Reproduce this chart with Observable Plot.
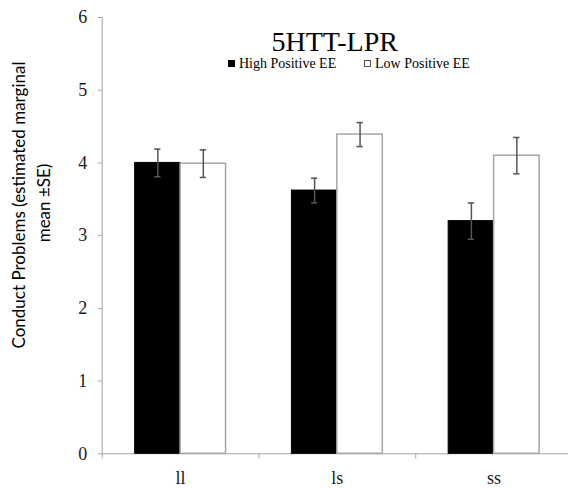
<!DOCTYPE html>
<html>
<head>
<meta charset="utf-8">
<script src="https://cdn.jsdelivr.net/npm/d3@7"></script>
<script src="https://cdn.jsdelivr.net/npm/@observablehq/plot@0.6"></script>
<style>
  html, body { margin: 0; padding: 0; background: #fff; overflow: hidden; }
  #wrap { position: relative; width: 568px; height: 488px; overflow: hidden; }
  #chart { position: absolute; left: 0; top: 0; }
  #title { position: absolute; left: 234.7px; width: 200px; top: 27.5px; text-align: center;
    font-family: "Liberation Serif", serif; font-size: 28px; color: #000; line-height: 28px; }
  #legend { position: absolute; left: 0; top: 57.3px; width: 568px; height: 14px; font-family: "Liberation Serif", serif;
    font-size: 14px; color: #000; white-space: nowrap; line-height: 14px; }
  #legend .item { position: absolute; top: 0; }
  #legend .sw { display: inline-block; width: 7px; height: 7px; margin-right: 4px; vertical-align: 1px; box-sizing: border-box; }
  .ylab { position: absolute; white-space: nowrap; font-family: Lato, sans-serif; font-size: 17px;
    line-height: 17px; color: #000; transform: translate(-50%, -50%) rotate(-90deg); transform-origin: 50% 50%; }
</style>
</head>
<body>
<div id="wrap">
  <div id="chart"></div>
  <div id="title"></div>
  <div id="legend"></div>
</div>
<script>
// ---- data ----
const genes = ["ll", "ls", "ss"];
const series = ["High Positive EE", "Low Positive EE"];
const highMeans = [4.00, 3.62, 3.20];
const lowMeans = [3.99, 4.39, 4.10];
const highSE = [0.19, 0.17, 0.25];
const lowSE = [0.19, 0.165, 0.25];
const yTicks = [0, 1, 2, 3, 4, 5, 6];
const titleText = "5HTT-LPR";
const yLabelLines = ["Conduct Problems (estimated marginal", "mean \u00B1SE)"];

// ---- layout constants ----
const groupStart = 0.21, barW = 0.29, capHalf = 0.02;
const barFill = ["#000000", "#ffffff"];
const barStroke = ["#000000", "#a6a6a6"];
const legendLeft = [228, 364];
const yLabelPos = [[17.5, 204.5], [42.5, 202.5]];

const rows = [];
genes.forEach((g, gi) => {
  [highMeans, lowMeans].forEach((arr, si) => {
    const se = (si === 0 ? highSE : lowSE)[gi];
    const x1 = gi + groupStart + si * barW;
    rows.push({gene: g, gi, series: series[si], si, mean: arr[gi], se,
      x1, x2: x1 + barW, xc: x1 + barW / 2});
  });
});

const chart = Plot.plot({
  width: 568,
  height: 488,
  marginTop: 17,
  marginBottom: 34.7,
  marginLeft: 101.7,
  marginRight: 0,
  style: {fontFamily: "Liberation Serif, serif", fontSize: "18px", color: "#1a1a1a", background: "#fff"},
  x: {type: "linear", domain: [0, genes.length], range: [101.7, 572]},
  y: {domain: [0, 6], range: [453.3, 17]},
  marks: [
    Plot.ruleY([0], {stroke: "#a6a6a6", x1: 0, x2: genes.length}),
    Plot.ruleX([0], {stroke: "#a6a6a6", y1: 0, y2: 6}),
    Plot.axisY({ticks: yTicks, tickSize: 4, tickPadding: 11, stroke: "#a6a6a6",
      tickFormat: d3.format("d"), label: null, fontSize: 18, fontFamily: "Liberation Serif"}),
    Plot.axisX({ticks: d3.range(genes.length + 1), tickSize: 5, stroke: "#a6a6a6",
      tickFormat: () => "", label: null}),
    Plot.axisX({ticks: genes.map((g, i) => i + 0.5), tickSize: 0, tickPadding: 17,
      tickFormat: d => genes[Math.floor(d)], label: null, fontSize: 18, fontFamily: "Liberation Serif"}),
    Plot.rectY(rows.filter(d => d.si === 0), {x1: "x1", x2: "x2", y1: 0, y2: "mean",
      fill: barFill[0], stroke: barStroke[0], strokeWidth: 1}),
    Plot.rectY(rows.filter(d => d.si === 1), {x1: "x1", x2: "x2", y1: 0, y2: "mean",
      fill: barFill[1], stroke: barStroke[1], strokeWidth: 1.5}),
    Plot.ruleX(rows, {x: "xc", y1: d => d.mean - d.se, y2: d => d.mean + d.se,
      stroke: "#555", strokeWidth: 1.5}),
    Plot.ruleY(rows, {y: d => d.mean + d.se, x1: d => d.xc - capHalf, x2: d => d.xc + capHalf,
      stroke: "#555", strokeWidth: 1.5}),
    Plot.ruleY(rows, {y: d => d.mean - d.se, x1: d => d.xc - capHalf, x2: d => d.xc + capHalf,
      stroke: "#555", strokeWidth: 1.5})
  ]
});
document.getElementById("chart").appendChild(chart);

document.getElementById("title").textContent = titleText;

const legend = document.getElementById("legend");
series.forEach((s, i) => {
  const item = document.createElement("span");
  item.className = "item";
  item.style.left = legendLeft[i] + "px";
  const sw = document.createElement("span");
  sw.className = "sw";
  sw.style.background = barFill[i];
  sw.style.border = "1px solid " + (i === 0 ? "#000" : "#555");
  item.appendChild(sw);
  item.appendChild(document.createTextNode(s));
  legend.appendChild(item);
});

const wrap = document.getElementById("wrap");
yLabelLines.forEach((line, i) => {
  const div = document.createElement("div");
  div.className = "ylab";
  div.style.left = yLabelPos[i][0] + "px";
  div.style.top = yLabelPos[i][1] + "px";
  div.textContent = line;
  wrap.appendChild(div);
});
</script>
</body>
</html>
